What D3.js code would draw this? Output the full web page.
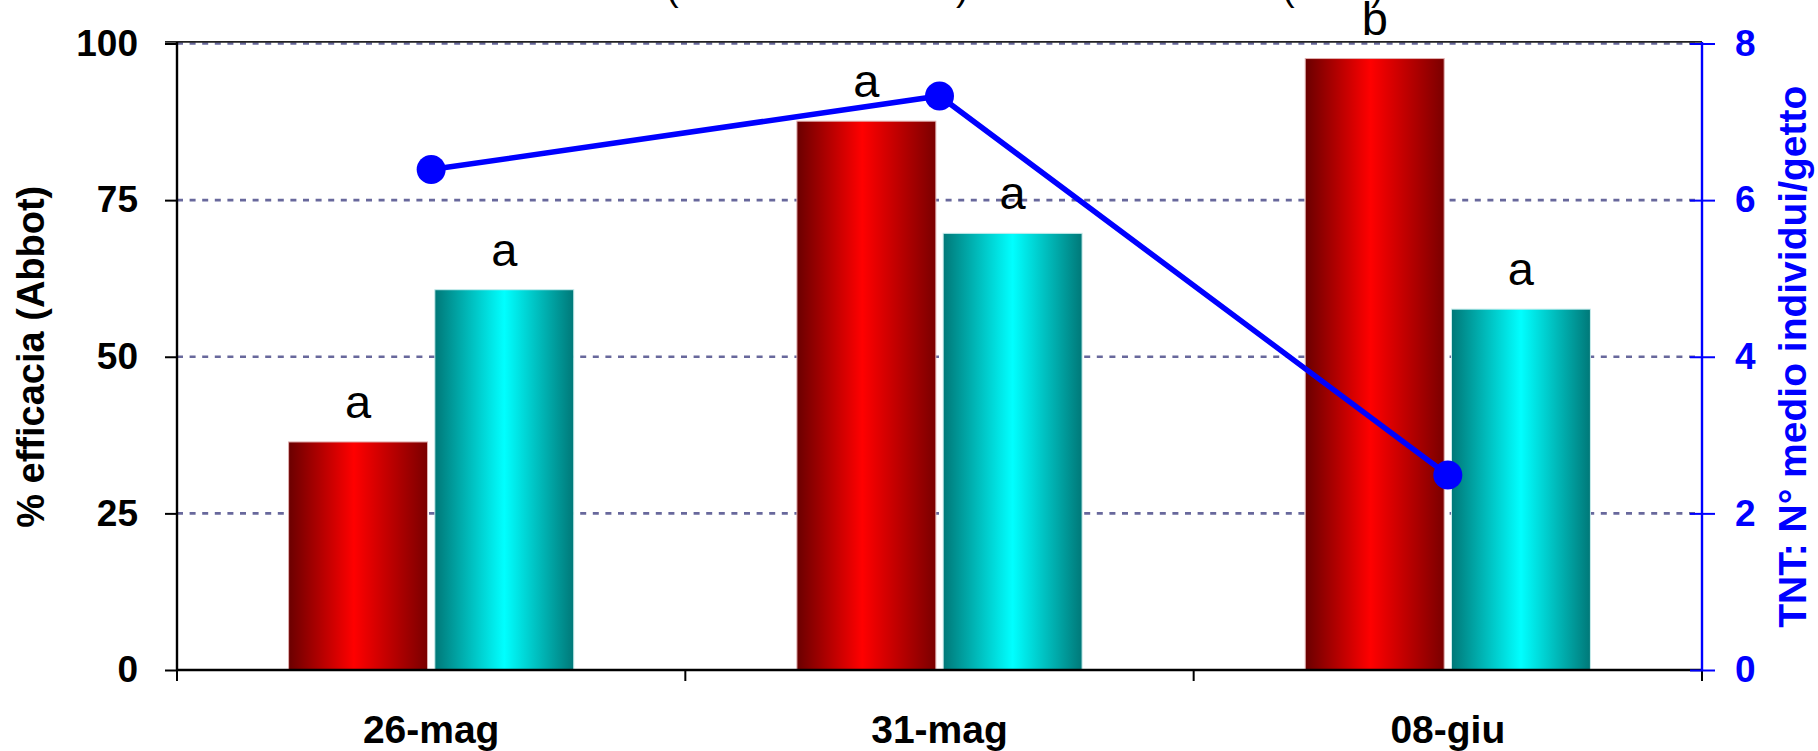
<!DOCTYPE html>
<html>
<head>
<meta charset="utf-8">
<script src="https://cdn.jsdelivr.net/npm/d3@7"></script>
<style>
  html, body { margin: 0; padding: 0; background: #fff; }
  svg { display: block; font-family: "Liberation Sans", Arial, sans-serif; }
</style>
</head>
<body>
<svg id="chart" width="1818" height="751"></svg>
<script>
// ---- data ----
const categories = ["26-mag", "31-mag", "08-giu"];
const seriesNames = ["trattamento A", "trattamento B"];
const efficaciaA = [36.4, 87.6, 97.6];   // red bars
const efficaciaB = [60.7, 69.7, 57.6];   // cyan bars
const lettersA = ["a", "a", "b"];
const lettersB = ["a", "a", "a"];
const tntValues = [6.39, 7.33, 2.49];    // blue line (right axis)
const leftTicks = [0, 25, 50, 75, 100];
const rightTicks = [0, 2, 4, 6, 8];
const titleParts = ["Efficacia ", "(", "% Abbot", ")", " e infestazione ", "(", "TNT", ")"];
const leftTitle = "% efficacia (Abbot)";
const rightTitle = "TNT: N° medio individui/getto";

// ---- layout ----
const W = 1818, H = 751;
const plot = { left: 177, right: 1702, top: 43.5, bottom: 670 };
const svg = d3.select("#chart");
const defs = svg.append("defs");

function hGrad(id, edgeL, mid, edgeR, midPos) {
  const g = defs.append("linearGradient").attr("id", id)
    .attr("x1", "0%").attr("x2", "100%").attr("y1", "0%").attr("y2", "0%");
  g.append("stop").attr("offset", "0%").attr("stop-color", edgeL);
  g.append("stop").attr("offset", midPos).attr("stop-color", mid);
  g.append("stop").attr("offset", "100%").attr("stop-color", edgeR);
}
hGrad("gradRed", "#6a0000", "#ff0000", "#7a0000", "47%");
hGrad("gradCyan", "#007878", "#00ffff", "#007878", "50%");

const x0 = d3.scaleBand().domain(categories).range([plot.left, plot.right]).padding(0);
const groupW = x0.bandwidth() * 0.561;
const x1 = d3.scaleBand().domain(seriesNames).range([0, groupW]).paddingInner(0.05);
const yL = d3.scaleLinear().domain([0, 100]).range([plot.bottom, plot.top]);
const yR = d3.scaleLinear().domain([0, 8]).range([plot.bottom, plot.top]);

// ---- title (cut off at top edge, only parenthesis tails visible) ----
const parenX = [666, 956, 1282, 1371];
const title = svg.append("text").attr("y", 0).attr("font-size", 38).attr("fill", "#000");
let pi = 0;
titleParts.forEach(t => {
  const ts = title.append("tspan").text(t);
  if (t === "(" || t === ")") { ts.attr("x", parenX[pi++]); }
});

// ---- grid lines ----
svg.append("g").selectAll("line").data(leftTicks.filter(d => d > 0)).join("line")
  .attr("x1", plot.left).attr("x2", plot.right)
  .attr("y1", d => yL(d)).attr("y2", d => yL(d))
  .attr("stroke", "#68689c").attr("stroke-width", 2.6)
  .attr("stroke-dasharray", "6,6.6");
// top border line
svg.append("line").attr("x1", plot.left - 12).attr("x2", plot.right)
  .attr("y1", yL(100) - 1.6).attr("y2", yL(100) - 1.6)
  .attr("stroke", "#222").attr("stroke-width", 1.6);

// ---- bars ----
const rows = categories.map((c, i) => ({ cat: c, vals: [efficaciaA[i], efficaciaB[i]], letters: [lettersA[i], lettersB[i]] }));
const groups = svg.append("g").selectAll("g").data(rows).join("g")
  .attr("transform", d => `translate(${x0(d.cat) + (x0.bandwidth() - groupW) / 2},0)`);
const fills = ["url(#gradRed)", "url(#gradCyan)"];
const strokes = ["#e0b0b0", "#c8ecec"];
groups.selectAll("rect").data(d => d.vals.map((v, k) => ({ v, k, name: seriesNames[k] }))).join("rect")
  .attr("x", d => x1(d.name))
  .attr("width", x1.bandwidth())
  .attr("y", d => yL(d.v))
  .attr("height", d => yL(0) - yL(d.v))
  .attr("fill", d => fills[d.k])
  .attr("stroke", d => strokes[d.k]).attr("stroke-width", 1);
groups.selectAll("text.lett").data(d => d.vals.map((v, k) => ({ v, k, name: seriesNames[k], l: d.letters[k] }))).join("text")
  .attr("class", "lett")
  .attr("x", d => x1(d.name) + x1.bandwidth() / 2)
  .attr("y", d => yL(d.v) - 24)
  .attr("text-anchor", "middle")
  .attr("font-size", 47)
  .attr("fill", "#000")
  .text(d => d.l);

// ---- axes ----
// x axis
svg.append("line").attr("x1", plot.left).attr("x2", plot.right)
  .attr("y1", plot.bottom).attr("y2", plot.bottom)
  .attr("stroke", "#000").attr("stroke-width", 2.4);
const bounds = categories.map(c => x0(c)).concat([plot.right]);
svg.append("g").selectAll("line").data(bounds).join("line")
  .attr("x1", d => d).attr("x2", d => d)
  .attr("y1", plot.bottom).attr("y2", plot.bottom + 11)
  .attr("stroke", "#000").attr("stroke-width", 2);
svg.append("g").selectAll("text").data(categories).join("text")
  .attr("x", d => x0(d) + x0.bandwidth() / 2)
  .attr("y", 743)
  .attr("text-anchor", "middle")
  .attr("font-size", 39).attr("font-weight", "bold")
  .text(d => d);

// left y axis
const axL = svg.append("g").attr("transform", `translate(${plot.left},0)`)
  .call(d3.axisLeft(yL).tickValues(leftTicks).tickSize(12).tickPadding(27).tickFormat(d3.format("d")));
axL.select(".domain").attr("stroke", "#000").attr("stroke-width", 2.4)
  .attr("d", `M0,${plot.top - 1.6}V${plot.bottom}`);
axL.selectAll(".tick line").attr("stroke", "#000").attr("stroke-width", 2);
axL.selectAll(".tick text").attr("font-size", 37).attr("font-weight", "bold")
  .attr("font-family", "Liberation Sans, Arial, sans-serif").attr("fill", "#000");

// right y axis
const axR = svg.append("g").attr("transform", `translate(${plot.right},0)`)
  .call(d3.axisRight(yR).tickValues(rightTicks).tickSize(13).tickPadding(20).tickFormat(d3.format("d")));
axR.select(".domain").attr("stroke", "#0000ff").attr("stroke-width", 2.4)
  .attr("d", `M0,${plot.top - 1.6}V${plot.bottom}`);
axR.selectAll(".tick line").attr("stroke", "#0000ff").attr("stroke-width", 2).attr("x1", -12);
axR.selectAll(".tick text").attr("font-size", 37).attr("font-weight", "bold")
  .attr("font-family", "Liberation Sans, Arial, sans-serif").attr("fill", "#0000ff");

// axis titles
svg.append("text")
  .attr("transform", `translate(44,${(plot.top + plot.bottom) / 2}) rotate(-90)`)
  .attr("text-anchor", "middle").attr("font-size", 38).attr("font-weight", "bold")
  .attr("fill", "#000").text(leftTitle);
svg.append("text")
  .attr("transform", `translate(1806,${(plot.top + plot.bottom) / 2}) rotate(-90)`)
  .attr("text-anchor", "middle").attr("font-size", 39).attr("font-weight", "bold")
  .attr("fill", "#0000ff").text(rightTitle);

// ---- line series ----
const pts = categories.map((c, i) => ({ x: x0(c) + x0.bandwidth() / 2, y: yR(tntValues[i]) }));
svg.append("path").datum(pts)
  .attr("d", d3.line().x(d => d.x).y(d => d.y))
  .attr("fill", "none").attr("stroke", "#0000ff").attr("stroke-width", 5.5);
svg.append("g").selectAll("circle").data(pts).join("circle")
  .attr("cx", d => d.x).attr("cy", d => d.y).attr("r", 14.5)
  .attr("fill", "#0000ff");
</script>
</body>
</html>
